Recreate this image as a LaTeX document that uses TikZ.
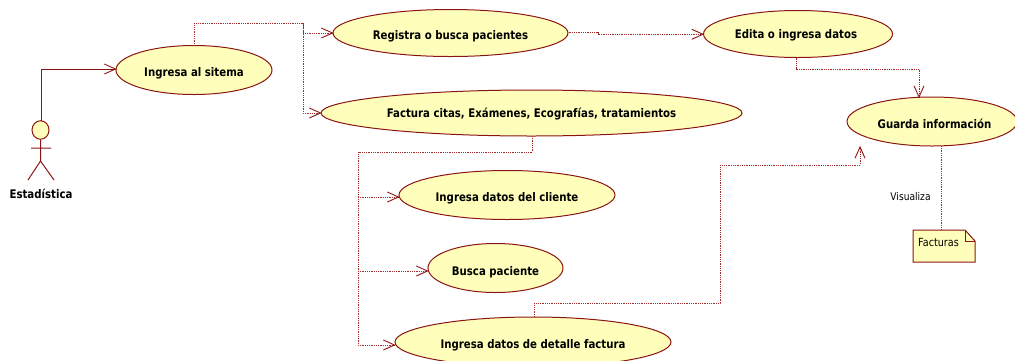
\documentclass[tikz,border=0pt]{standalone}
\usepackage{fontspec}
\setmainfont{DejaVu Sans}
\newfontfamily\lblbold[FakeStretch=0.86]{DejaVu Sans Bold}
\newfontfamily\lblreg[FakeStretch=0.86]{DejaVu Sans}
\definecolor{umlline}{HTML}{8B1414}
\definecolor{depline}{HTML}{A52A2A}
\definecolor{umlfill}{HTML}{FFFFBB}
\usetikzlibrary{shapes.geometric}
\newcommand{\uclabel}[2]{\raisebox{-#1pt}[8pt][2pt]{#2}}
\tikzset{
  usecase/.style={draw=umlline,fill=umlfill,line width=1pt,ellipse,inner sep=0pt,font=\lblbold\fontsize{11.85}{14}\selectfont,text=black},
  dep/.style={draw=depline,line width=1pt,dash pattern=on 1pt off 0.8pt},
  opentip/.style={draw=umlline,line width=0.9pt,solid,line cap=round},
  actorline/.style={draw=umlline,line width=1pt},
}
\newcommand{\usetip}[2]{% tip at #1, heading angle #2 (page sense)
  \draw[opentip] ([shift={(#2+156:12pt)}]#1) -- (#1) -- ([shift={(#2-156:12pt)}]#1);}
\begin{document}
\begin{tikzpicture}[x=1pt,y=-1pt]
\useasboundingbox (0,0) rectangle (1015,360);
\begin{scope}
\clip (0,0) rectangle (1015,360);
\node[usecase,minimum width=156pt,minimum height=49pt] (ingresa) at (194,70) {\uclabel{3}{Ingresa al sitema}};
\node[usecase,minimum width=235pt,minimum height=47pt] (registra) at (450.5,33) {\uclabel{3}{Registra o busca pacientes}};
\node[usecase,minimum width=421pt,minimum height=46pt] (factura) at (531.5,113) {\uclabel{1}{Factura citas, Exámenes, Ecografías, tratamientos}};
\node[usecase,minimum width=189pt,minimum height=47pt] (edita) at (798,34) {\hspace{-4pt}\uclabel{1}{Edita o ingresa datos}};
\node[usecase,minimum width=170pt,minimum height=49pt] (guarda) at (932,121.5) {\hspace{5pt}\uclabel{4}{Guarda información}};
\node[usecase,minimum width=216pt,minimum height=49pt] (cliente) at (507,195) {\uclabel{3}{Ingresa datos del cliente}};
\node[usecase,minimum width=135pt,minimum height=49pt] (busca) at (495.5,268) {\uclabel{4}{Busca paciente}};
\node[usecase,minimum width=276pt,minimum height=50pt] (detalle) at (533,342) {\uclabel{3}{Ingresa datos de detalle factura}};
\end{scope}
% actor
\node[draw=umlline,fill=umlfill,line width=1pt,ellipse,minimum width=17pt,minimum height=18.5pt,inner sep=0pt] (head) at (40.5,130) {};
\coordinate (shoulderL) at (31,148);
\coordinate (shoulderR) at (51,148);
\coordinate (hip) at (40.5,161);
\coordinate (footL) at (28,180);
\coordinate (footR) at (54,180);
\draw[actorline] (head.south) -- (hip) (shoulderL) -- (shoulderR) (footL) -- (hip) -- (footR);
\node[font=\lblbold\fontsize{11.85}{14}\selectfont] (actorlbl) at (41,194) {Estadística};
% actor association
\coordinate (a1) at (41.5,69);
\coordinate (h0) at (41.5,121);
\draw[actorline] (h0) -- (a1) -- (ingresa.west |- a1);
\usetip{ingresa.west |- a1}{0}
% ingresa includes
\coordinate (j1) at (303,23);
\coordinate (i0) at (194,46);
\draw[dep] (i0) |- (j1) |- (registra.west);
\draw[dep] (j1) |- (factura.west);
\usetip{registra.west}{0}
\usetip{factura.west}{0}
% registra -> edita
\coordinate (r1) at (598,32.3);
\coordinate (r2) at (598,34.3);
\draw[dep] (registra.east |- r1) -- (r1) -- (r2) -- (edita.west |- r2);
\usetip{edita.west |- r2}{0}
% edita -> guarda
\coordinate (e0) at (796,57.5);
\coordinate (e1) at (796,69);
\coordinate (e2) at (919,69);
\coordinate (g0) at (919,97);
\draw[dep] (e0) -- (e1) -- (e2) -- (g0);
\usetip{g0}{-90}
% factura children
\coordinate (f0) at (532.5,136);
\coordinate (f1) at (532.5,152);
\coordinate (f2) at (358,152);
\coordinate (f3) at (358,345);
\draw[dep] (f0) -- (f1) -- (f2) -- (f3) -- (detalle.west |- f3);
\coordinate (f4) at (358,197);
\coordinate (f5) at (358,271);
\draw[dep] (f4) -- (cliente.west |- f4);
\draw[dep] (f5) -- (busca.west |- f5);
\usetip{cliente.west |- f4}{0}
\usetip{busca.west |- f5}{0}
\usetip{detalle.west |- f3}{0}
% detalle -> guarda
\coordinate (d0) at (534,317);
\coordinate (d1) at (534,303);
\coordinate (d2) at (720,303);
\coordinate (d3) at (720,165);
\coordinate (d4) at (860,165);
\coordinate (d5) at (860,147);
\draw[dep] (d0) -- (d1) -- (d2) -- (d3) -- (d4) -- (d5);
\usetip{d5}{90}
% note
\coordinate (n0) at (913,230);
\coordinate (n1) at (965,230);
\coordinate (n2) at (975,241);
\coordinate (n3) at (975,262);
\coordinate (n4) at (913,262);
\draw[actorline,fill=umlfill] (n0) -- (n1) -- (n2) -- (n3) -- (n4) -- cycle;
\draw[actorline] (n1) -- (965,241) -- (n2);
\node[font=\lblreg\fontsize{11.2}{13}\selectfont,anchor=west,inner sep=0pt] (factnote) at (918,242.5) {Facturas};
\coordinate (g1) at (941.5,146);
\coordinate (n5) at (941.5,230);
\draw[dep] (g1) -- (n5);
\node[font=\lblreg\fontsize{10.6}{13}\selectfont] (vis) at (910.5,197) {Visualiza};
\end{tikzpicture}
\end{document}
